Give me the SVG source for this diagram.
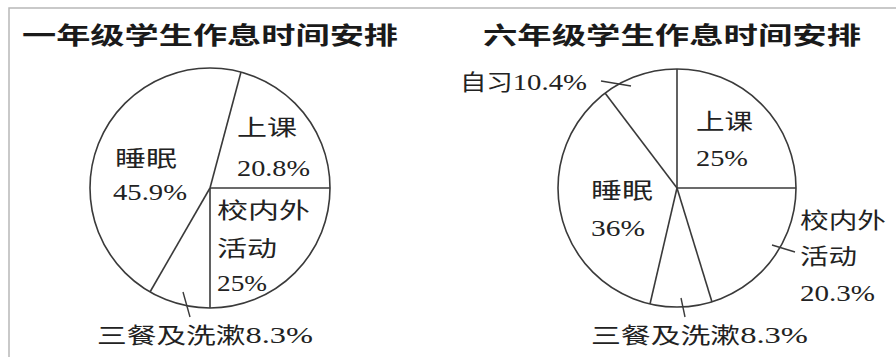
<svg xmlns="http://www.w3.org/2000/svg" width="896" height="357" viewBox="0 0 896 357">
<style>
.frame{stroke:#b8b8b8;stroke-width:1.5;fill:none}
.pie{fill:#fff;stroke:#3a3a3a;stroke-width:1.6}
.rad{stroke:#3a3a3a;stroke-width:1.6;fill:none}
.lead{stroke:#3a3a3a;stroke-width:1.4;fill:none}
.title{font-family:"Noto Sans CJK SC",sans-serif;font-size:24px;font-weight:bold;fill:#1a1a1a}
.lbl{font-family:"Liberation Serif","Noto Sans CJK SC",serif;font-size:22px;fill:#222}
.num{font-size:24px}
</style>
<rect width="896" height="357" fill="#fff"/>
<path class="frame" d="M9,357 V8 H896"/>

<g id="chart1">
  <text id="title1" class="title" x="22" y="44" textLength="376" lengthAdjust="spacingAndGlyphs">一年级学生作息时间安排</text>
  <g id="pie1">
    <circle class="pie" cx="210" cy="188" r="120"/>
    <line class="rad" x1="210" y1="188" x2="241" y2="72"/>
    <line class="rad" x1="210" y1="188" x2="330" y2="188"/>
    <line class="rad" x1="210" y1="188" x2="210" y2="308"/>
    <line class="rad" x1="210" y1="188" x2="150" y2="292"/>
  </g>
  <g id="c1-class">
    <text class="lbl" x="237" y="135" textLength="60" lengthAdjust="spacingAndGlyphs">上课</text>
    <text class="lbl num" x="237" y="176" textLength="73" lengthAdjust="spacingAndGlyphs">20.8%</text>
  </g>
  <g id="c1-sleep">
    <text class="lbl" x="115" y="166" textLength="62" lengthAdjust="spacingAndGlyphs">睡眠</text>
    <text class="lbl num" x="113" y="200" textLength="74" lengthAdjust="spacingAndGlyphs">45.9%</text>
  </g>
  <g id="c1-activity">
    <text class="lbl" x="217" y="218" textLength="93" lengthAdjust="spacingAndGlyphs">校内外</text>
    <text class="lbl" x="217" y="256" textLength="60" lengthAdjust="spacingAndGlyphs">活动</text>
    <text class="lbl num" x="217" y="291" textLength="50" lengthAdjust="spacingAndGlyphs">25%</text>
  </g>
  <g id="c1-meals">
    <text class="lbl" x="97" y="343" textLength="216" lengthAdjust="spacingAndGlyphs">三餐及洗漱<tspan class="num">8.3%</tspan></text>
  </g>
</g>

<g id="chart2">
  <text id="title2" class="title" x="483" y="44" textLength="378" lengthAdjust="spacingAndGlyphs">六年级学生作息时间安排</text>
  <g id="pie2">
    <circle class="pie" cx="677" cy="188" r="119"/>
    <line class="rad" x1="677" y1="188" x2="677" y2="69"/>
    <line class="rad" x1="677" y1="188" x2="796" y2="188"/>
    <line class="rad" x1="677" y1="188" x2="712" y2="302"/>
    <line class="rad" x1="677" y1="188" x2="650" y2="304"/>
    <line class="rad" x1="677" y1="188" x2="605" y2="93"/>
  </g>
  <g id="c2-study">
    <text class="lbl" x="460" y="90" textLength="127" lengthAdjust="spacingAndGlyphs">自习<tspan class="num">10.4%</tspan></text>
  </g>
  <g id="c2-class">
    <text class="lbl" x="696" y="129" textLength="57" lengthAdjust="spacingAndGlyphs">上课</text>
    <text class="lbl num" x="696" y="166" textLength="52" lengthAdjust="spacingAndGlyphs">25%</text>
  </g>
  <g id="c2-sleep">
    <text class="lbl" x="591" y="198" textLength="62" lengthAdjust="spacingAndGlyphs">睡眠</text>
    <text class="lbl num" x="591" y="236" textLength="54" lengthAdjust="spacingAndGlyphs">36%</text>
  </g>
  <g id="c2-activity">
    <text class="lbl" x="800" y="228" textLength="86" lengthAdjust="spacingAndGlyphs">校内外</text>
    <text class="lbl" x="800" y="264" textLength="57" lengthAdjust="spacingAndGlyphs">活动</text>
    <text class="lbl num" x="800" y="301" textLength="75" lengthAdjust="spacingAndGlyphs">20.3%</text>
  </g>
  <g id="c2-meals">
    <text class="lbl" x="591" y="343" textLength="217" lengthAdjust="spacingAndGlyphs">三餐及洗漱<tspan class="num">8.3%</tspan></text>
  </g>
</g>

<g id="connectors">
  <line class="lead" x1="183" y1="292" x2="190" y2="317"/>
  <line class="lead" x1="601" y1="81" x2="631" y2="86"/>
  <line class="lead" x1="772" y1="245" x2="795" y2="252"/>
  <line class="lead" x1="681" y1="298" x2="685" y2="317"/>
</g>
</svg>
